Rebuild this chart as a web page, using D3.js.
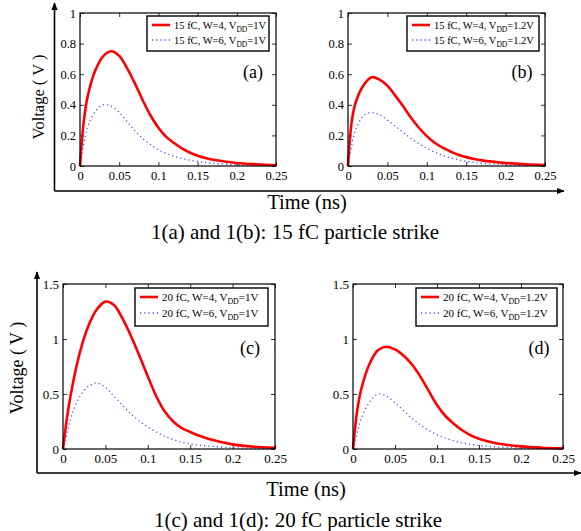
<!DOCTYPE html>
<html>
<head>
<meta charset="utf-8">
<script src="https://cdn.jsdelivr.net/npm/d3@7"></script>
<style>
  body { margin: 0; background: #fff; }
  svg { display: block; font-family: "Liberation Serif", "Times New Roman", Times, serif; }
</style>
</head>
<body>
<svg id="chart" width="581" height="531"></svg>
<script>
// sample times (ns)
const timeNs = [0, 0.005, 0.01, 0.02, 0.03, 0.04, 0.05, 0.06, 0.07, 0.08, 0.09, 0.1,
                0.11, 0.12, 0.13, 0.14, 0.15, 0.16, 0.17, 0.2, 0.225, 0.25];

// 15 fC, VDD = 1V
const voltA_W4 = [0, 0.30, 0.46, 0.63, 0.72, 0.75, 0.72, 0.64, 0.54, 0.43, 0.33, 0.25,
                  0.19, 0.15, 0.115, 0.088, 0.067, 0.052, 0.041, 0.02, 0.011, 0.005];
const voltA_W6 = [0, 0.15, 0.26, 0.36, 0.40, 0.39, 0.35, 0.29, 0.23, 0.18, 0.14, 0.105,
                  0.082, 0.063, 0.049, 0.038, 0.03, 0.023, 0.018, 0.008, 0.004, 0.002];
// 15 fC, VDD = 1.2V
const voltB_W4 = [0, 0.30, 0.42, 0.53, 0.58, 0.565, 0.525, 0.46, 0.39, 0.315, 0.25, 0.195,
                  0.152, 0.12, 0.095, 0.073, 0.058, 0.046, 0.037, 0.02, 0.011, 0.006];
const voltB_W6 = [0, 0.14, 0.24, 0.33, 0.35, 0.335, 0.30, 0.26, 0.22, 0.18, 0.145, 0.115,
                  0.09, 0.07, 0.053, 0.041, 0.031, 0.024, 0.018, 0.008, 0.004, 0.002];
// 20 fC, VDD = 1V
const voltC_W4 = [0, 0.30, 0.53, 0.88, 1.12, 1.27, 1.34, 1.31, 1.19, 1.03, 0.85, 0.66,
                  0.48, 0.34, 0.25, 0.19, 0.155, 0.122, 0.096, 0.042, 0.02, 0.01];
const voltC_W6 = [0, 0.15, 0.30, 0.48, 0.57, 0.60, 0.56, 0.48, 0.40, 0.32, 0.255, 0.2,
                  0.155, 0.115, 0.085, 0.062, 0.046, 0.035, 0.027, 0.012, 0.006, 0.003];
// 20 fC, VDD = 1.2V
const voltD_W4 = [0, 0.35, 0.55, 0.78, 0.90, 0.93, 0.905, 0.85, 0.77, 0.66, 0.53, 0.40,
                  0.30, 0.23, 0.17, 0.125, 0.093, 0.07, 0.053, 0.024, 0.012, 0.006];
const voltD_W6 = [0, 0.15, 0.28, 0.43, 0.50, 0.48, 0.42, 0.35, 0.28, 0.22, 0.17, 0.13,
                  0.10, 0.075, 0.056, 0.042, 0.032, 0.025, 0.019, 0.009, 0.004, 0.002];

const xTicks = [0, 0.05, 0.1, 0.15, 0.2, 0.25];
const yTicksTop = [0, 0.2, 0.4, 0.6, 0.8, 1];
const yTicksBottom = [0, 0.5, 1, 1.5];

const legendA = [["15 fC, W=4, V", "=1V"], ["15 fC, W=6, V", "=1V"]];
const legendB = [["15 fC, W=4, V", "=1.2V"], ["15 fC, W=6, V", "=1.2V"]];
const legendC = [["20 fC, W=4, V", "=1V"], ["20 fC, W=6, V", "=1V"]];
const legendD = [["20 fC, W=4, V", "=1.2V"], ["20 fC, W=6, V", "=1.2V"]];

const FONT = '"Liberation Serif", "Times New Roman", Times, serif';
const svg = d3.select('#chart');

const defs = svg.append('defs');
defs.append('marker')
    .attr('id', 'arrow')
    .attr('viewBox', '0 0 10 10')
    .attr('refX', 9).attr('refY', 5)
    .attr('markerWidth', 5).attr('markerHeight', 5)
    .attr('orient', 'auto')
  .append('path')
    .attr('d', 'M0,1 L10,5 L0,9 Z')
    .attr('fill', '#000');

// outer frames with arrows
function frame(x0, yTop, yBottom, xRight) {
    svg.append('path')
        .attr('d', `M${x0},${yBottom} L${x0},${yTop}`)
        .attr('stroke', '#000').attr('stroke-width', 1.6).attr('fill', 'none')
        .attr('marker-end', 'url(#arrow)');
    svg.append('path')
        .attr('d', `M${x0},${yBottom} L${xRight},${yBottom}`)
        .attr('stroke', '#000').attr('stroke-width', 1.6).attr('fill', 'none')
        .attr('marker-end', 'url(#arrow)');
}
frame(54.5, 3, 191, 564);
frame(37, 272, 473, 581);

function panel(cfg) {
    const { left, right, top, bottom, yMax, yTicks, w4, w6, legend, lg, tag, tagPos, tickFont } = cfg;
    const x = d3.scaleLinear().domain([0, 0.25]).range([left, right]);
    const y = d3.scaleLinear().domain([0, yMax]).range([bottom, top]);
    const g = svg.append('g');

    const fmt = d => String(d);

    const axB = g.append('g').attr('transform', `translate(0,${bottom})`)
        .call(d3.axisBottom(x).tickValues(xTicks).tickFormat(fmt).tickSizeInner(-4).tickSizeOuter(0).tickPadding(5));
    const axL = g.append('g').attr('transform', `translate(${left},0)`)
        .call(d3.axisLeft(y).tickValues(yTicks).tickFormat(fmt).tickSizeInner(-4).tickSizeOuter(0).tickPadding(4));
    const axT = g.append('g').attr('transform', `translate(0,${top})`)
        .call(d3.axisTop(x).tickValues(xTicks).tickFormat('').tickSizeInner(-4).tickSizeOuter(0));
    const axR = g.append('g').attr('transform', `translate(${right},0)`)
        .call(d3.axisRight(y).tickValues(yTicks).tickFormat('').tickSizeInner(-4).tickSizeOuter(0));
    [axB, axL, axT, axR].forEach(a => {
        a.attr('font-family', FONT);
        a.select('.domain').remove();
        a.selectAll('line').attr('stroke', '#000').attr('stroke-width', 0.8);
        a.selectAll('text')
            .attr('fill', '#000')
            .attr('font-size', tickFont);
    });

    const line = d3.line()
        .x((d, i) => x(timeNs[i]))
        .y(d => y(d))
        .curve(d3.curveCatmullRom.alpha(0.5));

    g.append('path').datum(w6)
        .attr('d', line)
        .attr('fill', 'none')
        .attr('stroke', '#4a4aff')
        .attr('stroke-width', 1.3)
        .attr('stroke-dasharray', '1.2,3');

    g.append('path').datum(w4)
        .attr('d', line)
        .attr('fill', 'none')
        .attr('stroke', '#f00')
        .attr('stroke-width', 2.6);

    g.append('rect')
        .attr('x', left).attr('y', top)
        .attr('width', right - left).attr('height', bottom - top)
        .attr('fill', 'none').attr('stroke', '#000').attr('stroke-width', 1.2);

    // legend
    g.append('rect')
        .attr('x', lg.x).attr('y', lg.y)
        .attr('width', lg.w).attr('height', lg.h)
        .attr('fill', '#fff').attr('stroke', '#000').attr('stroke-width', 1.4);
    const styles = [
        { stroke: '#f00', width: 2.6, dash: null },
        { stroke: '#4a4aff', width: 1.3, dash: '1.2,3' }
    ];
    legend.forEach((lab, i) => {
        const ry = lg.y + lg.row0 + i * lg.rowGap;
        g.append('line')
            .attr('x1', lg.x + 5).attr('x2', lg.x + 23)
            .attr('y1', ry).attr('y2', ry)
            .attr('stroke', styles[i].stroke)
            .attr('stroke-width', styles[i].width)
            .attr('stroke-dasharray', styles[i].dash);
        const t = g.append('text')
            .attr('x', lg.x + 27).attr('y', ry + 3.5)
            .attr('font-size', lg.font).attr('fill', '#000');
        t.append('tspan').text(lab[0]);
        t.append('tspan').attr('dy', 3).attr('font-size', lg.font * 0.72).text('DD');
        t.append('tspan').attr('dy', -3).text(lab[1]);
    });

    g.append('text')
        .attr('x', tagPos[0]).attr('y', tagPos[1])
        .attr('text-anchor', 'middle')
        .attr('font-size', 18)
        .attr('fill', '#000')
        .text(tag);
}

panel({ left: 80, right: 276, top: 13, bottom: 166, yMax: 1, yTicks: yTicksTop,
        w4: voltA_W4, w6: voltA_W6, legend: legendA, tickFont: 12.5,
        lg: { x: 147, y: 16, w: 122, h: 35, row0: 9, rowGap: 15, font: 10.5 },
        tag: '(a)', tagPos: [253, 78] });
panel({ left: 348, right: 545, top: 13, bottom: 166, yMax: 1, yTicks: yTicksTop,
        w4: voltB_W4, w6: voltB_W6, legend: legendB, tickFont: 12.5,
        lg: { x: 407, y: 16, w: 132, h: 35, row0: 9, rowGap: 15, font: 10.5 },
        tag: '(b)', tagPos: [522, 78] });
panel({ left: 63, right: 275, top: 284, bottom: 449, yMax: 1.5, yTicks: yTicksBottom,
        w4: voltC_W4, w6: voltC_W6, legend: legendC, tickFont: 13,
        lg: { x: 135, y: 288, w: 133, h: 38, row0: 9, rowGap: 16, font: 11 },
        tag: '(c)', tagPos: [250, 354] });
panel({ left: 353, right: 563, top: 284, bottom: 449, yMax: 1.5, yTicks: yTicksBottom,
        w4: voltD_W4, w6: voltD_W6, legend: legendD, tickFont: 13,
        lg: { x: 416, y: 288, w: 141, h: 38, row0: 9, rowGap: 16, font: 11 },
        tag: '(d)', tagPos: [539, 354] });

// axis titles and captions
svg.append('text')
    .attr('transform', 'translate(44,97) rotate(-90)')
    .attr('text-anchor', 'middle')
    .attr('font-size', 16.5).attr('fill', '#000')
    .text('Voltage ( V )');
svg.append('text')
    .attr('transform', 'translate(23,368) rotate(-90)')
    .attr('text-anchor', 'middle')
    .attr('font-size', 18).attr('fill', '#000')
    .text('Voltage ( V )');

svg.append('text').attr('x', 307).attr('y', 209)
    .attr('text-anchor', 'middle').attr('font-size', 20.5).attr('fill', '#000')
    .text('Time (ns)');
svg.append('text').attr('x', 295).attr('y', 239)
    .attr('text-anchor', 'middle').attr('font-size', 21).attr('fill', '#000')
    .text('1(a) and 1(b): 15 fC particle strike');
svg.append('text').attr('x', 306).attr('y', 496)
    .attr('text-anchor', 'middle').attr('font-size', 20.5).attr('fill', '#000')
    .text('Time (ns)');
svg.append('text').attr('x', 298).attr('y', 527)
    .attr('text-anchor', 'middle').attr('font-size', 21).attr('fill', '#000')
    .text('1(c) and 1(d): 20 fC particle strike');
</script>
</body>
</html>
